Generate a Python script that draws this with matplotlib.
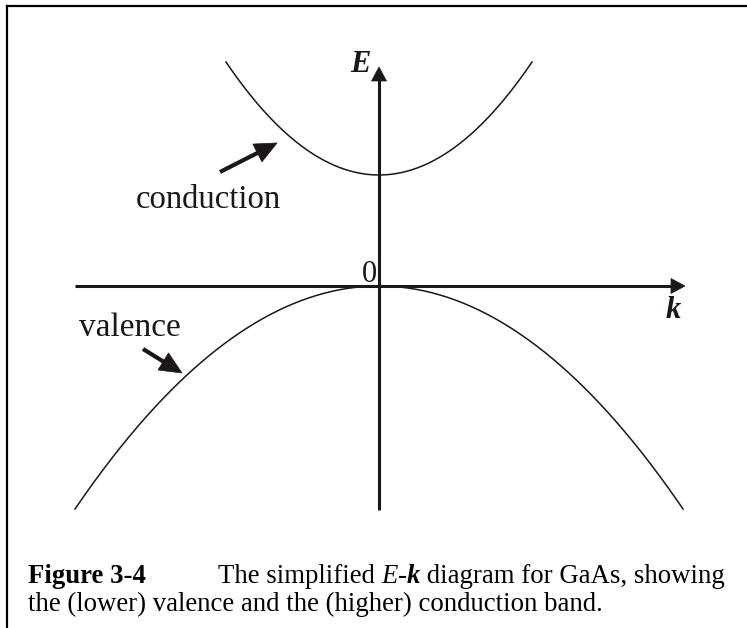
import numpy as np
import matplotlib
matplotlib.use("Agg")
import matplotlib.pyplot as plt
from matplotlib.patches import Polygon

# Band parameters of the simplified parabolic E-k model (pixel-scaled units)
band_names = ["valence", "conduction"]
band_edge = [0.0, 111.0]          # energy of band extremum
band_sign = [-1.0, 1.0]           # curvature direction
band_k_max = [304.0, 153.0]       # k range drawn on each side
band_E_span = [223.0, 113.0]      # energy change over that k range

W, H = 747, 628
X0, Y0 = 379, 286                 # origin in figure pixels
INK = "#1c1717"
SERIF = "Liberation Serif"

fig = plt.figure(figsize=(W / 100, H / 100), dpi=100)
ax = fig.add_axes([0, 0, 1, 1])
ax.set_xlim(-X0, W - X0)
ax.set_ylim(-(H - Y0), Y0)
ax.axis("off")


def tri(tip, direction, length, width):
    d = np.asarray(direction, float)
    d = d / np.hypot(*d)
    n = np.array([-d[1], d[0]])
    tip = np.asarray(tip, float)
    base = tip - d * length
    pts = [tip, base + n * width / 2, base - n * width / 2]
    ax.add_patch(Polygon(pts, closed=True, facecolor=INK, edgecolor=INK, lw=0.5, zorder=5))


def pointer(x0, y0, x1, y1, lw=3.0, head_len=22, head_w=20):
    d = np.array([x1 - x0, y1 - y0], float)
    d /= np.hypot(*d)
    end = np.array([x1, y1]) - d * head_len * 0.8
    ax.plot([x0, end[0]], [y0, end[1]], color=INK, lw=lw, solid_capstyle="butt", zorder=5)
    tri((x1, y1), d, head_len, head_w)


# Axes with arrowheads
ax.plot([-304, 294], [0, 0], color=INK, lw=2.2, solid_capstyle="butt")
tri((306, 0), (1, 0), 14, 15)
ax.plot([0, 0], [-224, 208], color=INK, lw=2.2, solid_capstyle="butt")
tri((0, 219), (0, 1), 14, 15)

# Bands
for name, e0, s, km, es in zip(band_names, band_edge, band_sign, band_k_max, band_E_span):
    k = np.linspace(-km, km, 400)
    E = e0 + s * es * (k / km) ** 2
    ax.plot(k, E, color=INK, lw=1.1)

# Axis labels
ax.text(-19, 222, "E", fontsize=22, family=SERIF, style="italic", weight="bold",
        color=INK, ha="center", va="center")
ax.text(294, -25, "k", fontsize=22, family=SERIF, style="italic", weight="bold",
        color=INK, ha="center", va="center")
ax.text(-10, 12, "0", fontsize=22, family=SERIF, color=INK, ha="center", va="center")

# Band labels and pointers
ax.text(208 - X0, Y0 - 200, "conduction", fontsize=23.5, family=SERIF, color=INK,
        ha="center", va="center")
pointer(220 - X0, Y0 - 172, 277 - X0, Y0 - 143)
ax.text(130 - X0, Y0 - 328, "valence", fontsize=24, family=SERIF, color=INK,
        ha="center", va="center")
pointer(143 - X0, Y0 - 349, 182 - X0, Y0 - 373)

# Frame lines (top and left)
fig.add_artist(plt.Line2D([7 / W, 1], [1 - 6 / H, 1 - 6 / H], color="black", lw=1.6,
                          transform=fig.transFigure))
fig.add_artist(plt.Line2D([7 / W, 7 / W], [0, 1 - 6 / H], color="black", lw=1.6,
                          transform=fig.transFigure))

# Caption, drawn as runs of differently styled text
renderer = fig.canvas.get_renderer()


def runs(x, y, pieces, size=19.3):
    for txt, style, weight in pieces:
        t = fig.text(x / W, 1 - y / H, txt, fontsize=size, family=SERIF, style=style,
                     weight=weight, color="black", ha="left", va="baseline")
        bb = t.get_window_extent(renderer)
        x += bb.width


runs(28, 583, [("Figure 3-4", "normal", "bold")])
runs(218, 583, [("The simplified ", "normal", "normal"),
                ("E", "italic", "normal"),
                ("-", "normal", "normal"),
                ("k", "italic", "bold"),
                (" diagram for GaAs, showing", "normal", "normal")])
runs(28, 611, [("the (lower) valence and the (higher) conduction band.", "normal", "normal")])

fig.savefig("out.png", dpi=100)
